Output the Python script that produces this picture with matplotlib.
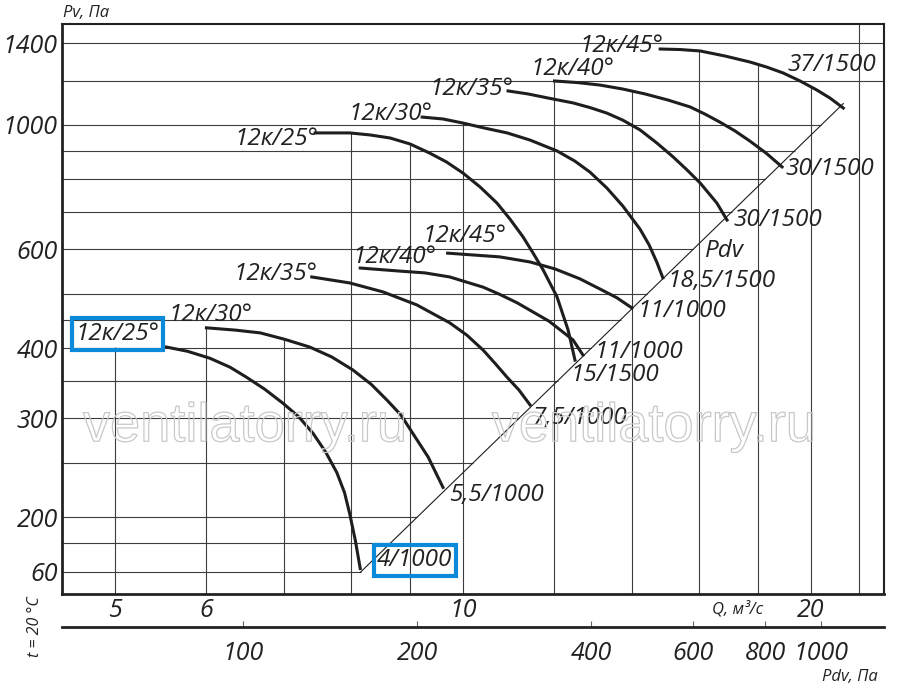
import numpy as np
import matplotlib.pyplot as plt
import matplotlib.patheffects as pe
from matplotlib.ticker import NullLocator

plt.rcParams['font.family'] = ['Open Sans', 'DejaVu Sans']
plt.rcParams['font.style'] = 'italic'

# Fan curves: Q in m3/s, Pv in Pa
# 1000 rpm
q_25_1000 = [5.54, 5.78, 6.04, 6.29, 6.50, 6.74, 6.99, 7.21, 7.42, 7.61, 7.78, 7.90, 7.98, 8.07, 8.15]
p_25_1000 = [402, 395, 384, 370, 355, 338, 319, 302, 282, 261, 240, 221, 203, 182, 162]
q_30_1000 = [6.00, 6.35, 6.68, 7.01, 7.37, 7.70, 8.03, 8.33, 8.60, 8.84, 9.05, 9.33, 9.61]
p_30_1000 = [435, 431, 426, 415, 402, 386, 366, 345, 323, 304, 282, 256, 226]
q_35_1000 = [7.40, 7.98, 8.53, 9.12, 9.74, 10.08, 10.41, 10.66, 10.92, 11.18, 11.43]
p_35_1000 = [536, 523, 504, 478, 444, 422, 397, 376, 355, 337, 317]
q_40_1000 = [8.15, 8.82, 9.27, 9.74, 10.41, 10.76, 11.14, 11.87, 12.45, 12.70]
p_40_1000 = [556, 549, 545, 536, 514, 499, 482, 447, 414, 389]
q_45_1000 = [9.70, 10.76, 11.43, 12.01, 12.62, 13.14, 13.59, 14.00]
p_45_1000 = [591, 582, 570, 554, 532, 510, 492, 472]
# 1500 rpm
q_25_1500 = [7.45, 7.98, 8.31, 8.65, 9.00, 9.36, 9.68, 10.0, 10.35, 10.70, 10.98, 11.27, 11.50,
             11.73, 12.06, 12.33, 12.50]
p_25_1500 = [968, 968, 960, 948, 925, 891, 859, 821, 775, 726, 680, 632, 591, 552, 494, 431, 381]
q_30_1500 = [9.22, 9.61, 10.0, 10.45, 10.92, 11.43, 12.06, 12.50, 12.88, 13.32, 13.75, 14.23,
             14.49, 14.72, 14.89]
p_30_1500 = [1033, 1025, 1008, 987, 968, 940, 899, 862, 824, 772, 717, 652, 611, 568, 534]
q_35_1500 = [10.94, 11.38, 11.90, 12.45, 12.88, 13.32, 13.75, 14.23, 14.72, 15.20, 15.63, 16.04,
             16.58, 16.92]
p_35_1500 = [1150, 1136, 1115, 1095, 1074, 1050, 1020, 980, 928, 877, 831, 788, 726, 677]
q_40_1500 = [12.0, 12.57, 13.14, 13.75, 14.37, 15.04, 15.72, 16.19, 16.68, 17.19, 17.71, 18.29, 18.88]
p_40_1500 = [1198, 1190, 1178, 1159, 1136, 1108, 1077, 1046, 1012, 976, 936, 891, 842]
q_45_1500 = [14.81, 15.41, 16.04, 16.86, 17.71, 18.32, 18.92, 19.57, 20.24, 20.77, 21.33]
p_45_1500 = [1366, 1363, 1355, 1327, 1295, 1268, 1238, 1198, 1154, 1117, 1072]

start_labels = ['12к/25°', '12к/30°', '12к/35°', '12к/40°', '12к/45°',
                '12к/25°', '12к/30°', '12к/35°', '12к/40°', '12к/45°']
end_labels = ['4/1000', '5,5/1000', '7,5/1000', '11/1000', '11/1000',
              '15/1500', '18,5/1500', '30/1500', '30/1500', '37/1500']

PDV_K = 2.40  # dynamic pressure line Pdv = k * Q^2

y_ticks = [160, 200, 300, 400, 600, 1000, 1400]
y_tick_labels = ['60', '200', '300', '400', '600', '1000', '1400']
x_ticks = [5, 6, 10, 20]
pdv_ticks = [100, 200, 400, 600, 800, 1000]
grid_p = [160, 180, 200, 250, 300, 350, 400, 450, 500, 600, 700, 800, 900, 1000, 1200, 1400]
grid_q = [5, 6, 7, 8, 9, 10, 12, 14, 16, 18, 20, 22]

curves = [
    (q_25_1000, p_25_1000), (q_30_1000, p_30_1000), (q_35_1000, p_35_1000),
    (q_40_1000, p_40_1000), (q_45_1000, p_45_1000),
    (q_25_1500, p_25_1500), (q_30_1500, p_30_1500), (q_35_1500, p_35_1500),
    (q_40_1500, p_40_1500), (q_45_1500, p_45_1500),
]

# label placement: start ha, start offset (px), end offset (px), boxed
layout = [
    ('right', -7, 7, 17, 2, True),
    ('left', -38, 7, 6, -14, False),
    ('right', 6, -3, 3, -19, False),
    ('left', -8, 5, 12, -3, False),
    ('left', -25, 11, 6, -9, False),
    ('right', 3, -12, -5, -21, False),
    ('right', 10, -3, 5, -9, False),
    ('right', 5, -4, 6, -6, False),
    ('left', -24, 6, 3, -8, False),
    ('right', 3, -3, -56, 37, False),
]

LINE = '#1e1e1e'
GRID = '#3c3c3c'
BLUE = '#0a8ad8'
FS = 17.5
TFS = 18

fig = plt.figure(figsize=(9, 6.88), dpi=100)
ax = fig.add_axes([62 / 900, 94 / 688, 822 / 900, 570 / 688])
ax.set_xscale('log')
ax.set_yscale('log')
xlo, xhi = 4.5, 23.13
ylo, yhi = 145.9, 1513.6
ax.set_xlim(xlo, xhi)
ax.set_ylim(ylo, yhi)

# horizontal grid stops at the Pdv line
p_diag_end = PDV_K * q_45_1500[-1] ** 2
for p in grid_p:
    xend = np.sqrt(p / PDV_K) if p <= p_diag_end else xhi
    ax.hlines(p, xlo, xend, color=GRID, lw=0.8, zorder=1)


def top_of(q):
    hits = [np.exp(np.interp(np.log(q), np.log(cq), np.log(cp)))
            for cq, cp in curves if cq[0] <= q <= cq[-1]]
    if hits:
        return max(hits)
    first = min(curves, key=lambda c: c[0][0])
    if q < first[0][0]:
        return first[1][0]
    return yhi


# vertical grid runs up to the highest curve
for q in grid_q:
    ax.vlines(q, ylo, top_of(q), color=GRID, lw=0.8, zorder=1)

# Pdv line
q_diag = np.array([q_25_1000[-1], q_45_1500[-1]])
ax.plot(q_diag, PDV_K * q_diag ** 2, color=LINE, lw=0.8, zorder=2)

for (cq, cp), s_lab, e_lab, (s_ha, sdx, sdy, edx, edy, boxed) in zip(curves, start_labels, end_labels, layout):
    ax.plot(cq, cp, color=LINE, lw=2.2, zorder=3, solid_joinstyle='round')
    bb = dict(boxstyle='square,pad=0.15', fc='none', ec=BLUE, lw=3) if boxed else None
    ax.annotate(s_lab, (cq[0], cp[0]), xytext=(sdx, sdy), textcoords='offset pixels',
                ha=s_ha, va='baseline', fontsize=FS, color='#222', bbox=bb, zorder=4)
    ax.annotate(e_lab, (cq[-1], cp[-1]), xytext=(edx, edy), textcoords='offset pixels',
                ha='left', va='baseline', fontsize=FS, color='#222', bbox=bb, zorder=4)

ax.text(16.2, 582, 'Pdv', fontsize=FS, color='#222', va='baseline')

# watermark
for xa in [0.2226, 0.720]:
    ax.text(xa, 0.268, 'ventilatorry.ru', transform=ax.transAxes, ha='center', va='baseline',
            fontsize=39, family='Liberation Sans', style='normal', color='none', zorder=5,
            path_effects=[pe.Stroke(linewidth=0.9, foreground='#c8c8c8')])

ax.set_yticks(y_ticks, y_tick_labels)
ax.set_xticks(x_ticks, [str(v) for v in x_ticks])
ax.xaxis.set_minor_locator(NullLocator())
ax.yaxis.set_minor_locator(NullLocator())
ax.tick_params(which='both', length=0, labelsize=TFS, pad=3, colors='#222')
for s in ['left', 'bottom']:
    ax.spines[s].set_linewidth(2.0)
for s in ['top', 'right']:
    ax.spines[s].set_linewidth(1.5)
for s in ax.spines.values():
    s.set_color('#222')


def q_to_pdv(q):
    return PDV_K * np.asarray(q, dtype=float) ** 2


def pdv_to_q(p):
    return np.sqrt(np.clip(np.asarray(p, dtype=float), 1e-9, None) / PDV_K)


sec = ax.secondary_xaxis(-0.058, functions=(q_to_pdv, pdv_to_q))
sec.set_xticks(pdv_ticks, [str(v) for v in pdv_ticks])
sec.xaxis.set_minor_locator(NullLocator())
sec.tick_params(direction='in', length=4, width=0.8, color='#666', pad=10, labelsize=TFS, labelcolor='#222')
sec.spines['bottom'].set_linewidth(2.0)
sec.spines['bottom'].set_color('#222')

fig.text(63 / 900, 1 - 17 / 688, 'Pv, Па', fontsize=12, color='#222')
fig.text(712 / 900, 1 - 614 / 688, 'Q, м³/с', fontsize=12, color='#222')
fig.text(822 / 900, 1 - 681 / 688, 'Pdv, Па', fontsize=12, color='#222')
fig.text(35 / 900, 1 - 627 / 688, 't = 20 °C', rotation=90, ha='center', va='center',
         fontsize=11.5, color='#222')

fig.savefig('out.png', dpi=100)
